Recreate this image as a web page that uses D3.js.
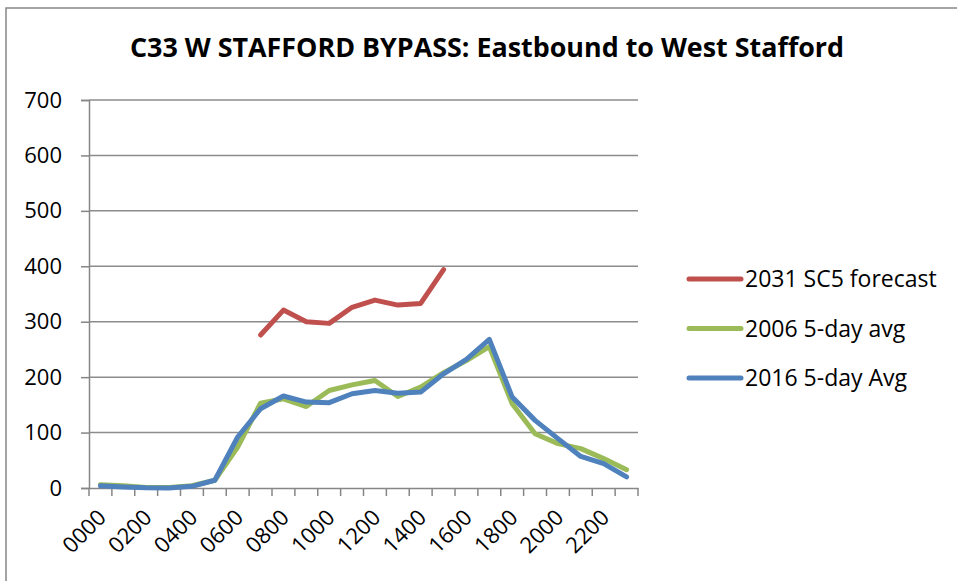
<!DOCTYPE html>
<html>
<head>
<meta charset="utf-8">
<script src="https://cdn.jsdelivr.net/npm/d3@7"></script>
<style>
  body { margin: 0; background: #fff; }
  text { font-family: "Open Sans", "Liberation Sans", sans-serif; }
</style>
</head>
<body>
<div id="chart"></div>
<script>
var hours = ["0000","0100","0200","0300","0400","0500","0600","0700","0800","0900","1000","1100",
             "1200","1300","1400","1500","1600","1700","1800","1900","2000","2100","2200","2300"];
var tickLabels = ["0000","0200","0400","0600","0800","1000","1200","1400","1600","1800","2000","2200"];
var yTicks = [0, 100, 200, 300, 400, 500, 600, 700];

var forecast2031 = [null,null,null,null,null,null,null,276,321,300,297,326,339,330,333,394,
                    null,null,null,null,null,null,null,null];
var avg2006 = [6,4,1,1,4,14,74,153,161,147,176,186,194,165,182,208,230,255,152,98,80,71,53,33];
var avg2016 = [4,2,0.5,0,3,14,92,143,166,155,154,170,176,171,173,206,232,268,164,122,89,57,44,20];

var seriesNames = ["2031 SC5 forecast", "2006 5-day avg", "2016 5-day Avg"];
var seriesColors = ["#c0504d", "#9bbb59", "#4f81bd"];

var width = 957, height = 581;
var plotLeft = 89, plotRight = 638, plotTop = 100, plotBottom = 488;

var svg = d3.select("#chart").append("svg")
    .attr("width", width)
    .attr("height", height);

// chart border
svg.append("rect")
    .attr("x", 6).attr("y", 8)
    .attr("width", 960).attr("height", 600)
    .attr("fill", "none")
    .attr("stroke", "#868686")
    .attr("stroke-width", 1.5);

svg.append("text")
    .attr("x", 487).attr("y", 57)
    .attr("text-anchor", "middle")
    .attr("font-weight", "bold")
    .attr("font-size", 26)
    .attr("textLength", 714)
    .attr("lengthAdjust", "spacingAndGlyphs")
    .text("C33 W STAFFORD BYPASS: Eastbound to West Stafford");

var x = d3.scaleBand().domain(hours).range([plotLeft, plotRight]);
var y = d3.scaleLinear().domain([0, 700]).range([plotBottom, plotTop]);

// gridlines
svg.append("g").selectAll("line")
    .data(yTicks.filter(function (d) { return d > 0; }))
    .enter().append("line")
    .attr("x1", plotLeft).attr("x2", plotRight)
    .attr("y1", function (d) { return y(d); })
    .attr("y2", function (d) { return y(d); })
    .attr("stroke", "#8c8c8c")
    .attr("stroke-width", 1.5);

// y axis
var yAxis = svg.append("g")
    .attr("transform", "translate(" + plotLeft + ",0)")
    .call(d3.axisLeft(y).tickValues(yTicks).tickSize(8).tickPadding(19));
yAxis.selectAll("text").attr("font-size", 22).attr("fill", "#000");
yAxis.selectAll("line").attr("stroke", "#868686").attr("stroke-width", 1.5);
yAxis.select(".domain").attr("stroke", "#868686").attr("stroke-width", 1.5);

// x axis
var xAxis = svg.append("g")
    .attr("transform", "translate(0," + plotBottom + ")")
    .call(d3.axisBottom(x).tickValues([]).tickSizeOuter(0));
xAxis.select(".domain").attr("stroke", "#868686").attr("stroke-width", 1.5);

xAxis.selectAll(".tk")
    .data(hours.concat(["end"]))
    .enter().append("line")
    .attr("x1", function (d, i) { return plotLeft + i * x.step(); })
    .attr("x2", function (d, i) { return plotLeft + i * x.step(); })
    .attr("y1", 0).attr("y2", 8)
    .attr("stroke", "#868686")
    .attr("stroke-width", 1.5);

xAxis.selectAll(".lbl")
    .data(tickLabels)
    .enter().append("text")
    .attr("font-size", 22)
    .attr("fill", "#000")
    .attr("text-anchor", "end")
    .attr("transform", function (d) {
        var cx = x(d) + x.bandwidth() / 2 - 4;
        return "translate(" + cx + ",20) rotate(-45)";
    })
    .attr("dy", "0.7em")
    .text(function (d) { return d; });

var line = d3.line()
    .defined(function (d) { return d != null; })
    .x(function (d, i) { return x(hours[i]) + x.bandwidth() / 2; })
    .y(function (d) { return y(d); });

[forecast2031, avg2006, avg2016].forEach(function (vals, k) {
    svg.append("path")
        .datum(vals)
        .attr("fill", "none")
        .attr("stroke", seriesColors[k])
        .attr("stroke-width", 5)
        .attr("stroke-linejoin", "round")
        .attr("stroke-linecap", "round")
        .attr("d", line);
});

// legend
var legend = svg.append("g");
seriesNames.forEach(function (name, k) {
    var ly = 279 + k * 49.5;
    legend.append("line")
        .attr("x1", 689).attr("x2", 741)
        .attr("y1", ly).attr("y2", ly)
        .attr("stroke", seriesColors[k])
        .attr("stroke-width", 5)
        .attr("stroke-linecap", "round");
    legend.append("text")
        .attr("x", 745).attr("y", ly)
        .attr("dy", "0.35em")
        .attr("font-size", 23)
        .text(name);
});
</script>
</body>
</html>
